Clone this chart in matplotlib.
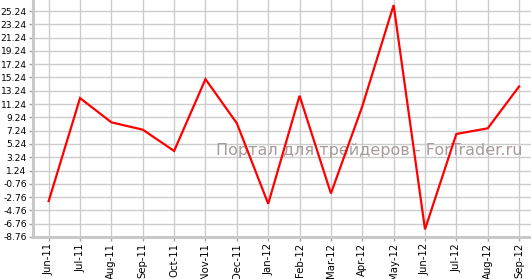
import matplotlib
matplotlib.use("Agg")
import matplotlib.pyplot as plt

# monthly values
months = ["Jun-11", "Jul-11", "Aug-11", "Sep-11", "Oct-11", "Nov-11", "Dec-11",
          "Jan-12", "Feb-12", "Mar-12", "Apr-12", "May-12", "Jun-12", "Jul-12",
          "Aug-12", "Sep-12"]
values = [-3.36, 12.14, 8.49, 7.39, 4.19, 14.99, 8.35, -3.76, 12.49, -2.21,
          10.9, 26.14, -7.61, 6.74, 7.59, 13.89]
yticks = [-8.76, -6.76, -4.76, -2.76, -0.76, 1.24, 3.24, 5.24, 7.24, 9.24,
          11.24, 13.24, 15.24, 17.24, 19.24, 21.24, 23.24, 25.24]
ytick_labels = ["-8.76", "-6.76", "-4.76", "-2.76", "-0.76", "1.24", "3.24",
                "5.24", "7.24", "9.24", "11.24", "13.24", "15.24", "17.24",
                "19.24", "21.24", "23.24", "25.24"]
watermark = "Портал для трейдеров - ForTrader.ru"

W, H = 531, 279
fig = plt.figure(figsize=(W / 100, H / 100), dpi=100)
ax = fig.add_axes([33 / W, 42 / H, (W - 33) / W, (H - 42) / H])

x = list(range(len(months)))
ax.plot(x, values, color="#ff0000", lw=1.6, solid_joinstyle="miter", zorder=3)

ax.set_xlim(-0.5, len(months) - 1 + 0.38)
ax.set_ylim(-8.76, 26.9)
ax.set_xticks(x)
ax.set_xticklabels(months, rotation=90, fontsize=7.3)
ax.set_yticks(yticks)
ax.set_yticklabels(ytick_labels, fontsize=6.6)

ax.grid(True, color="#cccccc", lw=1)
ax.set_axisbelow(True)
for side in ("top", "right"):
    ax.spines[side].set_visible(False)
for side in ("left", "bottom"):
    ax.spines[side].set_color("#c8c8c8")
    ax.spines[side].set_linewidth(2.2)
ax.tick_params(axis="y", color="#a0a0a0", length=3, width=1, pad=1.5)
ax.tick_params(axis="x", color="#a0a0a0", length=3, width=1, pad=1.5)

# watermark sits under the line
ax.text(369 / W, 1 - 151 / H, watermark, transform=fig.transFigure,
        fontsize=11.5, color="#a89a9a", ha="center", va="center", zorder=2)

fig.savefig("out.png", dpi=100)
